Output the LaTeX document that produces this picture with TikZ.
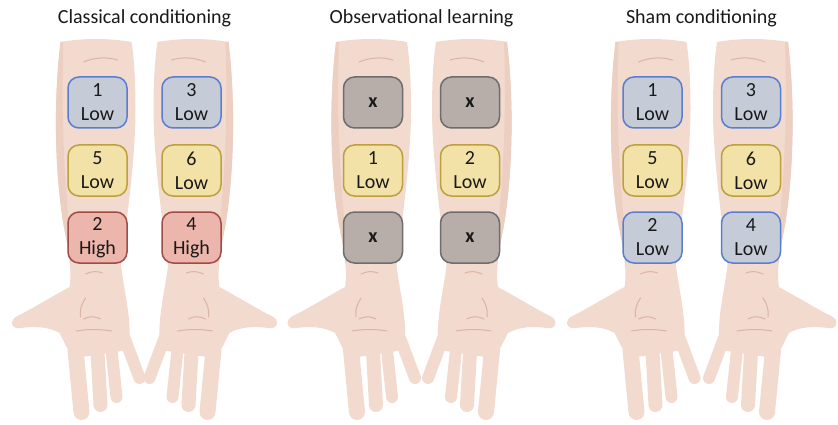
\documentclass[tikz,border=0pt]{standalone}
\usepackage{fontspec}
\setmainfont{Carlito}

\definecolor{skin}{HTML}{F2DACE}
\definecolor{skinshade}{HTML}{EDCFC1}
\definecolor{crease}{HTML}{DDB3A3}
\definecolor{lowfill}{HTML}{C5CCD8}
\definecolor{lowline}{HTML}{5B7DD0}
\definecolor{midfill}{HTML}{F3E2A8}
\definecolor{midline}{HTML}{BDA03E}
\definecolor{highfill}{HTML}{EDB6AC}
\definecolor{highline}{HTML}{9F4B46}
\definecolor{nonefill}{HTML}{B7AEAA}
\definecolor{noneline}{HTML}{6D6D70}

% one arm, thumb to the left, drawn around x = 0 (units are px, y downwards)
\newcommand\drawarm{%
  % forearm
  \fill[skin] (-37,42) .. controls (-44,100) and (-43,170) .. (-34,225)
    .. controls (-30,245) and (-28,255) .. (-27,268)
    -- (23,268) .. controls (28,230) and (38,160) .. (38,110)
    .. controls (38,75) and (36,55) .. (34,42)
    .. controls (12,38) and (-15,38) .. cycle;
  \fill[skinshade] (-37,42) .. controls (-44,100) and (-43,170) .. (-34,225)
    .. controls (-30,245) and (-28,255) .. (-27,268) -- (-24,268)
    .. controls (-27,230) and (-38,160) .. (-34,42) -- cycle;
  % palm and thumb
  \fill[skin] (-27,262) .. controls (-27,275) and (-27,282) .. (-28,287)
    .. controls (-48,298) and (-66,309) .. (-80,316)
    .. controls (-89,320) and (-86,330) .. (-77,328)
    .. controls (-62,326) and (-48,327) .. (-38,333)
    .. controls (-34,340) and (-30,352) .. (-22,358)
    -- (31,350) .. controls (35,320) and (27,295) .. (23,262) -- cycle;
  % fingers
  \foreach \xa/\ya/\xb/\yb/\w in {-22/350/-16/412/16, 0/352/3/405/14,
      14/350/19/397/12, 27/338/42/378/12}
    \draw[skin, line width=\w pt, line cap=round] (\xa,\ya) -- (\xb,\yb);
  % creases
  \draw[crease, line width=1pt, line cap=round]
    (-14,62) .. controls (-2,57) and (10,57) .. (20,60)
    (-12,274) .. controls (-6,271) and (0,271) .. (5,273)
    (-14,319) .. controls (-8,316) and (-2,316) .. (3,319)
    (-21,331) .. controls (-10,329) and (3,329) .. (14,331)
    (-12,298) .. controls (-16,304) and (-18,310) .. (-17,317);
}

\begin{document}
\begin{tikzpicture}[x=1pt, y=-1pt,
  every node/.style={font=\fontsize{20}{24}\selectfont, text=black!90},
  pad/.style={line width=1.5pt, rounded corners=11pt, minimum width=59pt,
    minimum height=51pt, align=center, inner sep=0pt},
  lowpad/.style={pad, fill=lowfill, draw=lowline},
  midpad/.style={pad, fill=midfill, draw=midline},
  highpad/.style={pad, fill=highfill, draw=highline},
  nonepad/.style={pad, fill=nonefill, draw=noneline, font=\fontsize{20}{24}\selectfont\bfseries}]
  \useasboundingbox (0,0) rectangle (838,425);

  % arms, the right one of each pair mirrored
  \foreach \cx/\s in {97.5/1, 191.5/-1, 373/1, 470/-1, 652.5/1, 751/-1} {
    \begin{scope}[shift={(\cx,0)}, xscale=\s]
      \drawarm
    \end{scope}
  }

  % titles
  \node[anchor=base] (cc) at (144.5,23.5) {Classical conditioning};
  \node[anchor=base] (ol) at (421.5,23.5) {Observational learning};
  \node[anchor=base] (sh) at (701.5,23.5) {Sham conditioning};

  % electrode pads
  \foreach \nm/\cx/\cy/\kind/\txt in {
      cc1/97.5/102.5/lowpad/{1\\Low}, cc3/191.5/102.5/lowpad/{3\\Low},
      cc5/97.5/170.5/midpad/{5\\Low}, cc6/191.5/170.5/midpad/{6\\Low},
      cc2/97.5/237.5/highpad/{2\\High}, cc4/191.5/237.5/highpad/{4\\High},
      olx1/373/102.5/nonepad/x, olx2/470/102.5/nonepad/x,
      ol1/373/170.5/midpad/{1\\Low}, ol2/470/170.5/midpad/{2\\Low},
      olx3/373/237.5/nonepad/x, olx4/470/237.5/nonepad/x,
      sh1/652.5/102.5/lowpad/{1\\Low}, sh3/751/102.5/lowpad/{3\\Low},
      sh5/652.5/170.5/midpad/{5\\Low}, sh6/751/170.5/midpad/{6\\Low},
      sh2/652.5/237.5/lowpad/{2\\Low}, sh4/751/237.5/lowpad/{4\\Low}}
    \node[\kind] (\nm) at (\cx,\cy) {\txt};
\end{tikzpicture}
\end{document}
